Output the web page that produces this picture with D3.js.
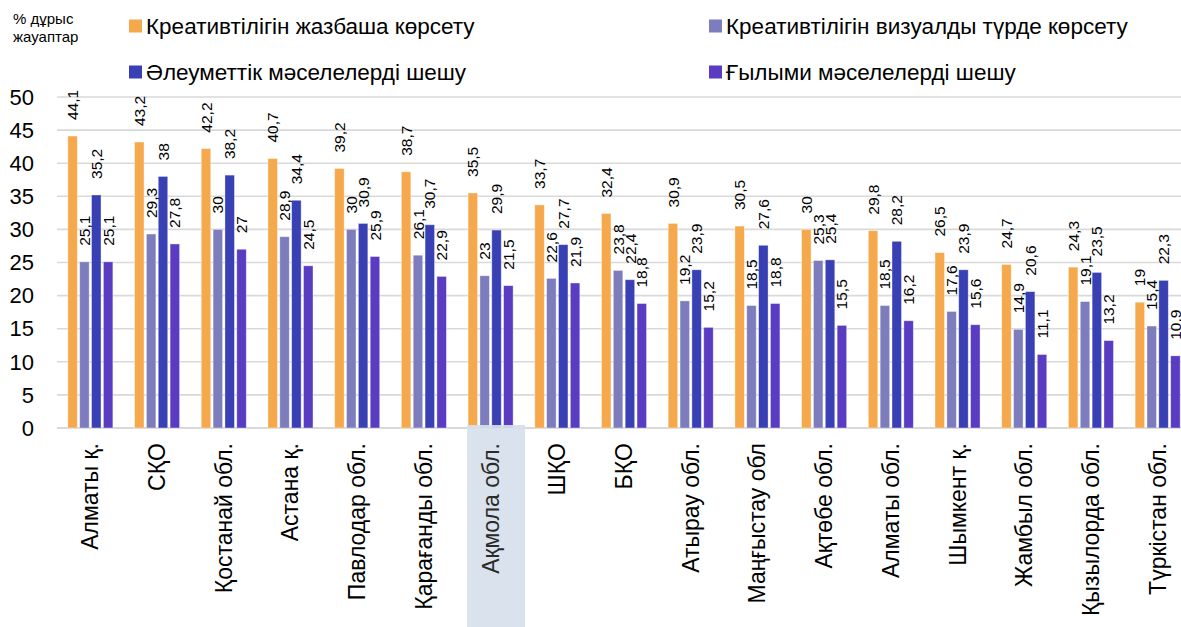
<!DOCTYPE html>
<html>
<head>
<meta charset="utf-8">
<script src="https://cdn.jsdelivr.net/npm/d3@7"></script>
<style>
  html, body { margin: 0; padding: 0; background: #fff; }
  svg { display: block; font-family: "Liberation Sans", Arial, sans-serif; }
</style>
</head>
<body>
<svg id="chart" width="1181" height="627"></svg>
<script>
const categories = ["Алматы қ.", "СҚО", "Қостанай обл.", "Астана қ.", "Павлодар обл.", "Қарағанды обл.", "Ақмола обл.", "ШҚО", "БҚО", "Атырау обл.", "Маңғыстау обл", "Ақтөбе обл.", "Алматы обл.", "Шымкент қ.", "Жамбыл обл.", "Қызылорда обл.", "Түркістан обл."];
const seriesNames = ["Креативтілігін жазбаша көрсету", "Креативтілігін визуалды түрде көрсету", "Әлеуметтік мәселелерді шешу", "Ғылыми мәселелерді шешу"];
const writtenValues = [44.1, 43.2, 42.2, 40.7, 39.2, 38.7, 35.5, 33.7, 32.4, 30.9, 30.5, 30, 29.8, 26.5, 24.7, 24.3, 19];
const visualValues = [25.1, 29.3, 30, 28.9, 30, 26.1, 23, 22.6, 23.8, 19.2, 18.5, 25.3, 18.5, 17.6, 14.9, 19.1, 15.4];
const socialValues = [35.2, 38, 38.2, 34.4, 30.9, 30.7, 29.9, 27.7, 22.4, 23.9, 27.6, 25.4, 28.2, 23.9, 20.6, 23.5, 22.3];
const scienceValues = [25.1, 27.8, 27, 24.5, 25.9, 22.9, 21.5, 21.9, 18.8, 15.2, 18.8, 15.5, 16.2, 15.6, 11.1, 13.2, 10.9];
const yTicks = [0, 5, 10, 15, 20, 25, 30, 35, 40, 45, 50];
const axisTitle = ["% дұрыс", "жауаптар"];
const highlighted = "Ақмола обл.";

const colors = ["#F5A94C", "#7D7DBE", "#3940B4", "#5A3CC3"];
const seriesValues = [writtenValues, visualValues, socialValues, scienceValues];

const svg = d3.select("#chart");

const x0 = d3.scaleBand().domain(categories).range([57, 1191]).paddingInner(0.325).paddingOuter(0.1625);
const x1 = d3.scaleBand().domain(d3.range(4)).range([0, x0.bandwidth()]).paddingInner(0.2).paddingOuter(0);
const y = d3.scaleLinear().domain([0, 50]).range([428, 97]);

// gridlines
svg.append("g").selectAll("line").data(yTicks).join("line")
  .attr("x1", 57).attr("x2", 1181)
  .attr("y1", d => y(d)).attr("y2", d => y(d))
  .attr("stroke", "#D9D9D9").attr("stroke-width", d => d === 0 ? 2.2 : 1.6);

// y axis labels
svg.append("g").selectAll("text").data(yTicks).join("text")
  .attr("x", 34).attr("y", d => y(d)).attr("dy", "0.35em")
  .attr("text-anchor", "end").attr("font-size", 22).attr("fill", "#000")
  .text(d => d);

// bars
const groups = svg.append("g").selectAll("g").data(categories).join("g")
  .attr("transform", d => `translate(${x0(d)},0)`);

groups.selectAll("rect").data((c, i) => seriesValues.map((s, k) => ({k, v: s[i]}))).join("rect")
  .attr("x", d => x1(d.k)).attr("width", x1.bandwidth())
  .attr("y", d => y(d.v)).attr("height", d => y(0) - y(d.v))
  .attr("fill", d => colors[d.k])
  .attr("stroke", "#ffffff").attr("stroke-opacity", 0.45).attr("stroke-width", 0.8);

// value labels
groups.selectAll("text").data((c, i) => seriesValues.map((s, k) => ({k, v: s[i]}))).join("text")
  .attr("transform", d => `translate(${x1(d.k) + x1.bandwidth() / 2},${y(d.v) - 16}) rotate(-90)`)
  .attr("dy", "0.36em").attr("text-anchor", "start")
  .attr("font-size", 15.5).attr("fill", "#000")
  .text(d => String(d.v).replace(".", ","));

// highlight box
svg.append("rect")
  .attr("x", x0(highlighted) - 1).attr("width", x0.bandwidth() + 13)
  .attr("y", 425).attr("height", 202)
  .attr("fill", "#D6DFEC").attr("opacity", 0.92);

// category labels
svg.append("g").selectAll("text").data(categories).join("text")
  .attr("transform", d => `translate(${x0(d) + x0.bandwidth() / 2 + 8},443) rotate(-90)`)
  .attr("text-anchor", "end").attr("font-size", 23)
  .attr("fill", d => d === highlighted ? "#2a2a2a" : "#000")
  .text(d => d);

// axis title
svg.append("g").selectAll("text").data(axisTitle).join("text")
  .attr("x", 13).attr("y", (d, i) => 24 + i * 18)
  .attr("font-size", 15).attr("fill", "#000")
  .text(d => d);

// legend
const legendPos = [[129, 26], [709, 26], [129, 72], [709, 72]];
const leg = svg.append("g").selectAll("g").data(seriesNames).join("g")
  .attr("transform", (d, i) => `translate(${legendPos[i][0]},${legendPos[i][1]})`);
leg.append("rect").attr("x", 0).attr("y", -6.5).attr("width", 13).attr("height", 13)
  .attr("fill", (d, i) => colors[i]);
leg.append("text").attr("x", 17).attr("y", 0).attr("dy", "0.36em")
  .attr("font-size", 22.5).attr("fill", "#000").text(d => d);
</script>
</body>
</html>
